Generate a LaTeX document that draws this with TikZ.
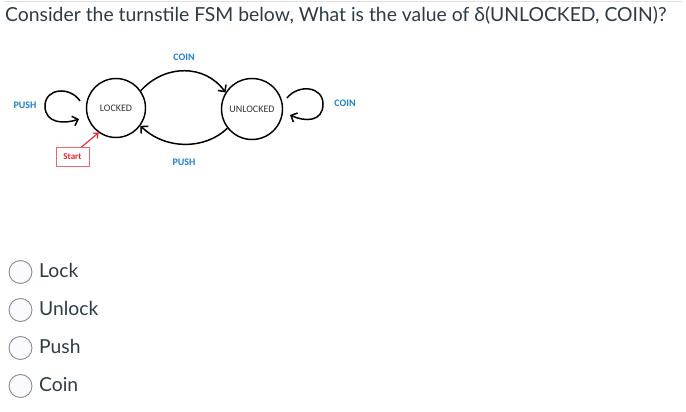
\documentclass[tikz,border=0pt]{standalone}
\usepackage{fontspec}
\setmainfont{Lato}
\newfontfamily\carlito{Carlito}
\usetikzlibrary{arrows.meta}
\definecolor{txt}{HTML}{2D3B45}
\definecolor{lblblue}{HTML}{1F7FD0}
\definecolor{startred}{HTML}{E8232A}
\tikzset{
  statenode/.style={circle,draw=black,line width=1.45pt,minimum size=59pt,inner sep=0pt,font=\carlito\fontsize{10}{12}\selectfont,text=black!80},
  lbl/.style={font=\carlito\bfseries\fontsize{10}{12}\selectfont,text=lblblue,inner sep=0pt},
  trans/.style={line width=1.5pt,draw=black,-{Straight Barb[length=5pt,width=10pt]}},
  radio/.style={circle,draw=black!45,fill=blue!2,line width=0.9pt,minimum size=23pt,inner sep=0pt},
  opt/.style={anchor=base west,font=\fontsize{19.3}{22}\selectfont,text=txt,inner sep=0pt},
  startbox/.style={draw=startred!70,line width=0.8pt,minimum width=33pt,minimum height=19pt,inner sep=0pt,font=\carlito\bfseries\fontsize{9}{11}\selectfont,text=startred}
}
\begin{document}
\begin{tikzpicture}[x=1pt,y=-1pt]
\useasboundingbox (0,0) rectangle (686,412);
\draw[black!12,line width=0.8pt] (4,1.5) -- (682,1.5);
\node[opt,anchor=base west,font=\fontsize{19.35}{24}\selectfont] (title) at (5,22) {Consider the turnstile FSM below, What is the value of δ(UNLOCKED, COIN)?};

% states
\node[statenode] (L) at (116,108) {LOCKED};
\node[statenode,minimum size=61pt] (U) at (252,109) {UNLOCKED};

% transitions
\draw[trans] (L.35) .. controls (165,64) and (205,64) .. (U.148);
\draw[trans] (U.218) .. controls (205,150) and (165,150) .. (L.-36);

\coordinate (pl1) at (80,101);
\coordinate (pl2) at (45,106);
\coordinate (pl3) at (79,119);
\draw[trans] (pl1) .. controls (70,86) and (45,88) .. (pl2) .. controls (45,124) and (65,124) .. (pl3);

\coordinate (cl1) at (287,98);
\coordinate (cl2) at (323,104);
\coordinate (cl3) at (290,115);
\draw[trans] (cl1) .. controls (298,84) and (323,86) .. (cl2) .. controls (323,122) and (305,122) .. (cl3);

% labels
\node[lbl] (lcoin) at (184,57) {COIN};
\node[lbl] (lpush) at (184,162) {PUSH};
\node[lbl] (lpushl) at (25,105) {PUSH};
\node[lbl] (lcoinr) at (345,103) {COIN};

% start
\node[startbox] (start) at (72.5,157) {Start};
\draw[startred,line width=1.1pt,-{Straight Barb[length=4pt,width=7pt]}] (start.north east) ++(-8,0) coordinate (sa) (sa) -- (L.235);

% options
\node[radio] (r1) at (20.5,272) {};
\node[opt] (o1) at (39,277.5) {Lock};
\node[radio] (r2) at (20.5,310) {};
\node[opt] (o2) at (39,315.5) {Unlock};
\node[radio] (r3) at (20.5,348) {};
\node[opt] (o3) at (39,353.5) {Push};
\node[radio] (r4) at (20.5,386) {};
\node[opt] (o4) at (39,391.5) {Coin};
\end{tikzpicture}
\end{document}
